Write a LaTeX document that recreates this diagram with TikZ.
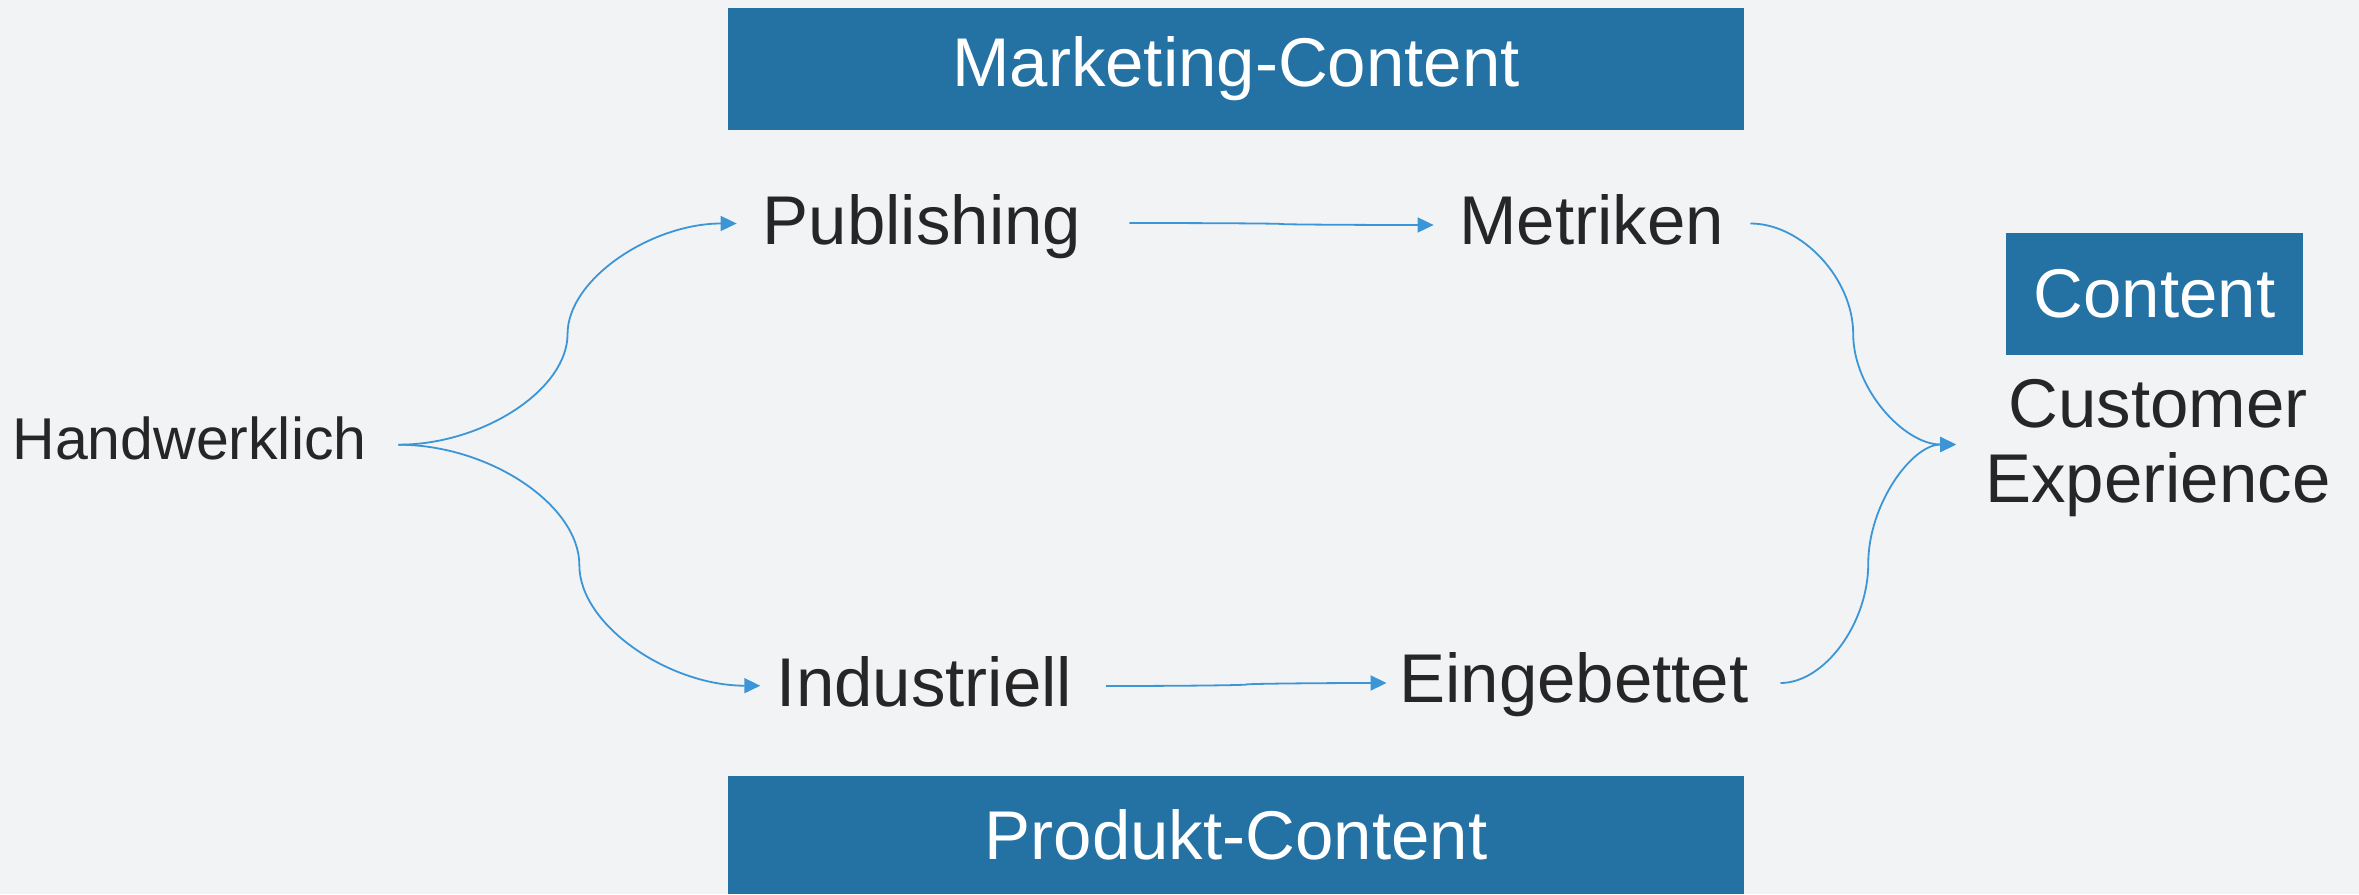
\documentclass[tikz,border=0pt]{standalone}
\usepackage{fontspec}
\setmainfont{Liberation Sans}
\usetikzlibrary{arrows.meta,calc}
\definecolor{bg}{HTML}{F2F3F5}
\definecolor{boxblue}{HTML}{2471A3}
\definecolor{linkblue}{HTML}{3A96D6}
\definecolor{ink}{HTML}{262626}
\begin{document}
\begin{tikzpicture}[x=0.5pt,y=-0.5pt,
  lbl/.style={anchor=base, inner sep=0pt, text=ink, font=\fontsize{34.5}{37.5}\selectfont},
  smalllbl/.style={lbl, font=\fontsize{29.5}{34}\selectfont},
  banner/.style={fill=boxblue, text=white, inner sep=0pt, font=\fontsize{34.5}{40}\selectfont},
  link/.style={draw=linkblue, line width=0.9pt, -{Triangle[length=8pt,width=7.5pt]}}]
\fill[bg] (0,0) rectangle (2359,894);
\useasboundingbox (0,0) rectangle (2359,894);

% banners
\node[banner, minimum width=508pt, minimum height=61pt] (mk) at (1236,69) {Marketing-Content};
\node[banner, minimum width=508pt, minimum height=59pt] (pk) at (1236,835) {Produkt-Content};
\node[banner, minimum width=148.5pt, minimum height=61pt] (ct) at (2154.5,294) {Content};

% labels
\node[smalllbl] (hand) at (189.5,459) {Handwerklich};
\node[lbl] (pub) at (922,244) {Publishing};
\node[lbl] (met) at (1591.5,244) {Metriken};
\node[lbl] (ind) at (924.5,706) {Industriell};
\node[lbl] (ein) at (1574,702) {Eingebettet};
\node[lbl, align=center] (cx) at (2158,502) {Customer\\Experience};

% connector end points
\coordinate (hOut) at ($(hand.base east)+(31.5,-14.3)$);
\coordinate (pubIn) at ($(pub.base west)+(-25.8,-20.5)$);
\coordinate (pubOut) at ($(pub.base east)+(47.8,-21)$);
\coordinate (metIn) at ($(met.base west)+(-25.2,-19)$);
\coordinate (metOut) at ($(met.base east)+(26.2,-20.5)$);
\coordinate (indIn) at ($(ind.base west)+(-16.2,-20.3)$);
\coordinate (indOut) at ($(ind.base east)+(33.6,-20)$);
\coordinate (einIn) at ($(ein.base west)+(-12.5,-19)$);
\coordinate (einOut) at ($(ein.base east)+(31.5,-19)$);
\coordinate (cxIn) at ($(cx.base)+(-202,-57.5)$);

% connectors
\draw[link] (hOut) .. controls +(84.75,0) and +(0,55.3) .. ($(hOut)!0.5!(pubIn)$)
  .. controls +(0,-55.3) and +(-84.75,0) .. (pubIn);
\draw[link] (hOut) .. controls +(90.7,0) and +(0,-60.25) .. ($(hOut)!0.5!(indIn)$)
  .. controls +(0,60.25) and +(-90.7,0) .. (indIn);
\draw[link] (pubOut) .. controls +(76,0) and +(0,-0.5) .. ($(pubOut)!0.5!(metIn)$)
  .. controls +(0,0.5) and +(-76,0) .. (metIn);
\draw[link] (indOut) .. controls +(70,0) and +(0,0.75) .. ($(indOut)!0.5!(einIn)$)
  .. controls +(0,-0.75) and +(-70,0) .. (einIn);
\draw[link] (metOut) .. controls +(51.5,0) and +(0,-55.25) .. ($(metOut)!0.5!(cxIn)$)
  .. controls +(0,55.25) and +(-51.5,0) .. (cxIn);
\draw[link] (einOut) .. controls +(44,0) and +(0,59.6) .. ($(einOut)!0.5!(cxIn)$)
  .. controls +(0,-59.6) and +(-44,0) .. (cxIn);
\end{tikzpicture}
\end{document}
